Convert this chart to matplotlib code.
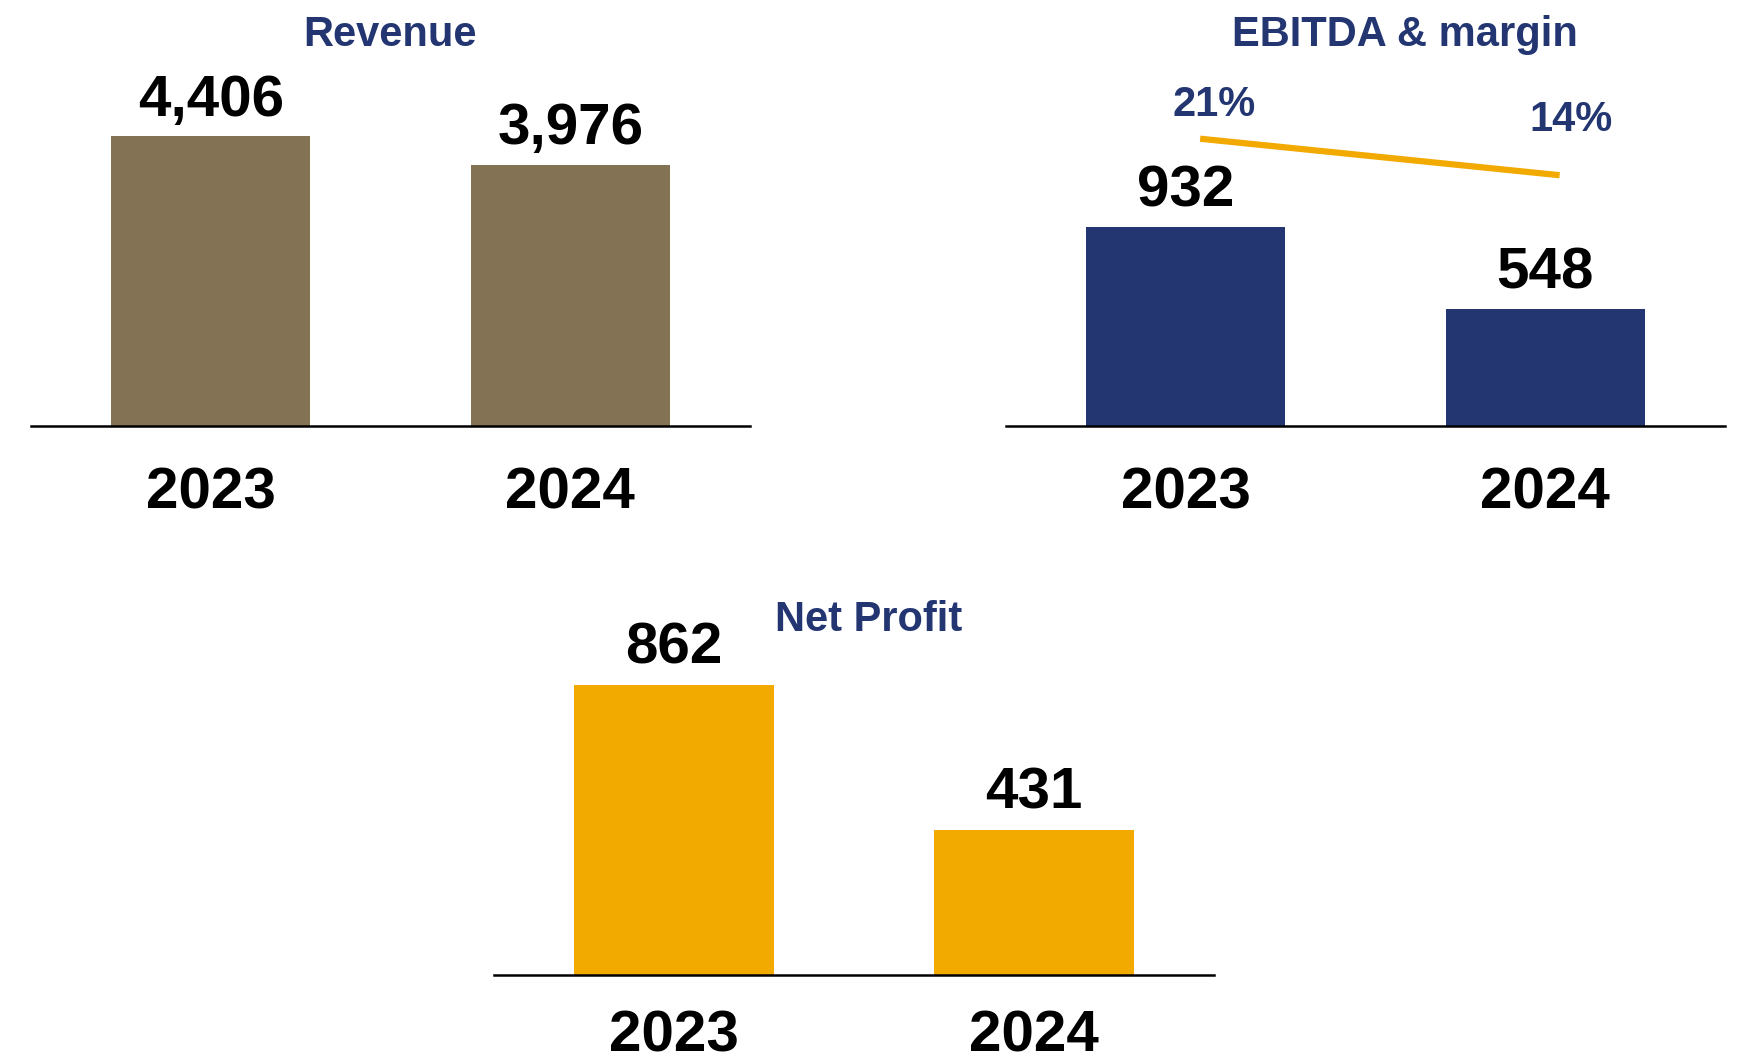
import matplotlib
matplotlib.use("Agg")
import matplotlib.pyplot as plt

# Financial highlights (values in millions)
years = ["2023", "2024"]
revenue = [4406, 3976]
ebitda = [932, 548]
ebitda_margin = [21, 14]
net_profit = [862, 431]

NAVY = "#233672"
BROWN = "#837354"
GOLD = "#F2A900"
FONT = "Liberation Sans"

plt.rcParams["font.family"] = [FONT, "DejaVu Sans"]

W, H = 1737, 1062
fig = plt.figure(figsize=(W / 100, H / 100), dpi=100)


def px_axes(left, top, right, bottom):
    return fig.add_axes([left / W, 1 - bottom / H, (right - left) / W, (bottom - top) / H])


def bar_panel(ax, values, color, headroom, title, title_x, title_y, pad=29):
    x = list(range(len(values)))
    ax.bar(x, values, width=0.553, color=color, zorder=2)
    ax.set_xlim(-0.5, len(values) - 0.5)
    ax.set_ylim(0, max(values) * headroom)
    for s in ("top", "left", "right"):
        ax.spines[s].set_visible(False)
    ax.spines["bottom"].set_linewidth(1.8)
    ax.spines["bottom"].set_color("black")
    ax.spines["bottom"].set_zorder(3)
    ax.set_yticks([])
    ax.set_xticks(x)
    ax.set_xticklabels(years, fontsize=42, fontweight="bold", color="black")
    ax.tick_params(axis="x", length=0, pad=pad)
    ax.patch.set_alpha(0)
    for xi, v in zip(x, values):
        ax.annotate(f"{v:,}", (xi, v), xytext=(0, 15), textcoords="offset points",
                    ha="center", va="baseline", fontsize=42, fontweight="bold",
                    color="black")
    ax.text(title_x, title_y, title, transform=ax.transAxes, ha="center",
            va="baseline", fontsize=30, fontweight="bold", color=NAVY)
    return x


# Revenue
ax1 = px_axes(31, 60, 750, 426.5)
bar_panel(ax1, revenue, BROWN, 366.5 / 290, "Revenue", 0.5, 1.037)

# EBITDA with margin line
ax2 = px_axes(1006, 60, 1725, 426.5)
xs = bar_panel(ax2, ebitda, NAVY, 366.5 / 199.5, "EBITDA & margin", 0.555, 1.037)
ax2b = ax2.twinx()
ax2b.set_ylim(-34.2, 36.1)
ax2b.axis("off")
mx = [x + 0.04 for x in xs]
ax2b.plot(mx, ebitda_margin, color=GOLD, linewidth=4.5, solid_capstyle="butt")
for xi, m, off in zip(mx, ebitda_margin, [(10, 16), (8, 32)]):
    ax2b.annotate(f"{m}%", (xi, m), xytext=off, textcoords="offset points",
                  ha="center", va="baseline", fontsize=30, fontweight="bold",
                  color=NAVY)

# Net profit
ax3 = px_axes(494, 610, 1214, 975)
bar_panel(ax3, net_profit, GOLD, 365 / 290.4, "Net Profit", 0.521, 0.9425, pad=25)

fig.savefig("out.png", dpi=100, facecolor="white")
